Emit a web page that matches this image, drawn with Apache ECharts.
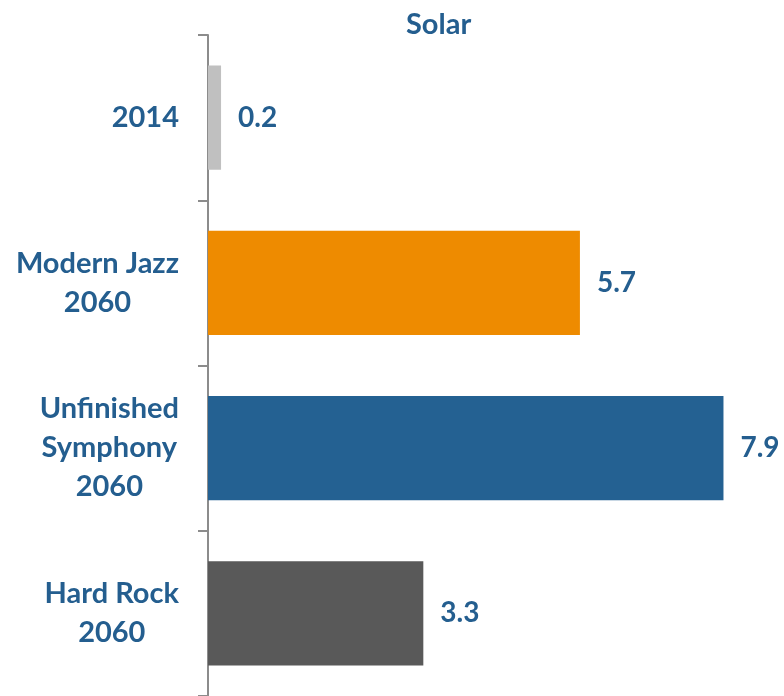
<!DOCTYPE html>
<html>
<head>
<meta charset="utf-8">
<script src="https://cdn.jsdelivr.net/npm/echarts@6/dist/echarts.min.js"></script>
<style>
  html, body { margin: 0; padding: 0; background: #ffffff; }
  #chart { width: 784px; height: 696px; }
</style>
</head>
<body>
<div id="chart"></div>
<script>
// Solar capacity by scenario
const categories = ['2014', 'Modern Jazz\n2060', 'Unfinished\nSymphony\n2060', 'Hard Rock\n2060'];
const values = [0.2, 5.7, 7.9, 3.3];
const barColors = ['#c0c0c0', '#ee8b00', '#246192', '#595959'];

const FONT = 'Lato, "Open Sans", sans-serif';
const TEXT_BLUE = '#245e8f';

const chart = echarts.init(document.getElementById('chart'), null, { renderer: 'canvas' });

chart.setOption({
  animation: false,
  backgroundColor: '#ffffff',
  title: {
    text: 'Solar',
    left: 401,
    top: 5,
    textStyle: { fontFamily: FONT, fontWeight: 'bold', fontSize: 29, color: TEXT_BLUE }
  },
  grid: { left: 208, top: 35, width: 522, height: 663, containLabel: false },
  xAxis: {
    type: 'value',
    min: 0,
    max: 8,
    show: false
  },
  yAxis: {
    type: 'category',
    inverse: true,
    data: categories,
    axisLine: { show: true, lineStyle: { color: '#8c8c8c', width: 2 } },
    axisTick: { show: true, length: 10, lineStyle: { color: '#8c8c8c', width: 2 } },
    axisLabel: {
      margin: 29,
      align: 'right',
      fontFamily: FONT,
      fontWeight: 'bold',
      fontSize: 29,
      color: TEXT_BLUE,
      lineHeight: 39,
      formatter: function (v) {
        return v.split('\n').map(function (s) { return '{c|' + s + '}'; }).join('\n');
      },
      rich: {
        c: {
          align: 'center',
          fontFamily: FONT,
          fontWeight: 'bold',
          fontSize: 29,
          color: TEXT_BLUE,
          lineHeight: 39
        }
      }
    },
    splitLine: { show: false }
  },
  series: [{
    type: 'bar',
    data: values.map(function (v, i) { return { value: v, itemStyle: { color: barColors[i] } }; }),
    barCategoryGap: '37%',
    label: {
      show: true,
      position: 'right',
      distance: 17,
      fontFamily: FONT,
      fontWeight: 'bold',
      fontSize: 28,
      color: TEXT_BLUE,
      formatter: function (p) { return p.value.toFixed(1); }
    }
  }]
});
</script>
</body>
</html>
